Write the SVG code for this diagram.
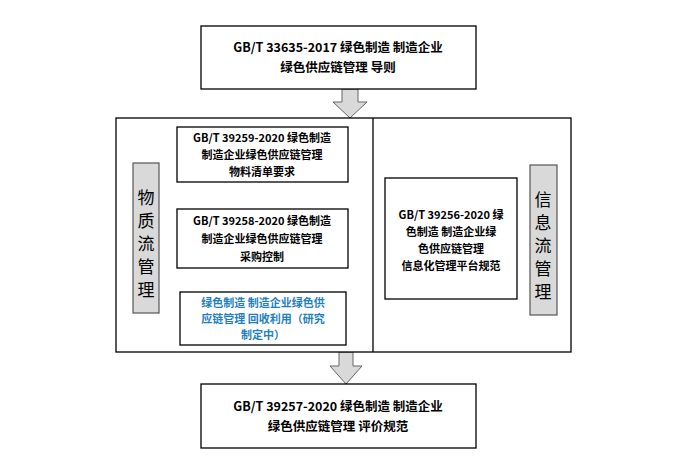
<svg xmlns="http://www.w3.org/2000/svg" width="677" height="464" viewBox="0 0 677 464">
<style>
.b{fill:#fff;stroke:#000;stroke-width:1.3}
.g{fill:#d9d9d9;stroke:#555;stroke-width:1.2}
.a{fill:#d9d9d9;stroke:#666;stroke-width:1}
text{font-family:"Noto Sans CJK SC","Liberation Sans",sans-serif;font-weight:bold;font-size:12.5px;text-anchor:middle;fill:#000}
.s{font-size:11px}
.bl{fill:#1f7fc0}
.v{font-size:17px;font-weight:normal}
</style>
<rect width="677" height="464" fill="#fff"/>
<g id="connectors">
<path class="a" d="M342,89h16v13h9l-17,16l-17,-16h9z"/>
<path class="a" d="M255,182h14v10h10l-17,17l-17,-17h10z"/>
<path class="a" d="M255,268h14v9h10l-16,15l-16,-15h8z"/>
<path class="a" d="M339,352h14v14h9l-16,18l-16,-18h9z"/>
</g>
<g id="outer"><rect class="b" x="116" y="118" width="455" height="234"/><line x1="373" y1="118" x2="373" y2="352" stroke="#000" stroke-width="1.3"/></g>
<g id="top"><rect class="b" x="201" y="26" width="275" height="63"/><text x="338" y="52">GB/T 33635-2017 绿色制造 制造企业</text><text x="338" y="72">绿色供应链管理  导则</text></g>
<g id="n1"><rect class="b" x="177" y="127" width="171" height="55"/><text class="s" x="262" y="142">GB/T 39259-2020 绿色制造</text><text class="s" x="262" y="159">制造企业绿色供应链管理</text><text class="s" x="262" y="176">物料清单要求</text></g>
<g id="n2"><rect class="b" x="177" y="209" width="171" height="59"/><text class="s" x="262" y="225">GB/T 39258-2020 绿色制造</text><text class="s" x="262" y="243">制造企业绿色供应链管理</text><text class="s" x="262" y="261">采购控制</text></g>
<g id="n3"><rect class="b" x="180" y="292" width="166" height="53"/><text class="s bl" x="263" y="307">绿色制造  制造企业绿色供</text><text class="s bl" x="263" y="323">应链管理  回收利用（研究</text><text class="s bl" x="263" y="339">制定中）</text></g>
<g id="left"><rect class="g" x="133" y="163" width="26" height="150"/><text class="v" x="146" y="204">物</text><text class="v" x="146" y="227">质</text><text class="v" x="146" y="250">流</text><text class="v" x="146" y="273">管</text><text class="v" x="146" y="296">理</text></g>
<g id="n4"><rect class="b" x="385" y="178" width="132" height="121"/><text class="s" x="451" y="219">GB/T 39256-2020 绿</text><text class="s" x="451" y="236">色制造  制造企业绿</text><text class="s" x="451" y="253">色供应链管理</text><text class="s" x="451" y="270">信息化管理平台规范</text></g>
<g id="right"><rect class="g" x="530" y="165" width="27" height="150"/><text class="v" x="543" y="206">信</text><text class="v" x="543" y="229">息</text><text class="v" x="543" y="252">流</text><text class="v" x="543" y="275">管</text><text class="v" x="543" y="298">理</text></g>
<g id="bottom"><rect class="b" x="201" y="384" width="275" height="64"/><text x="338" y="411">GB/T 39257-2020 绿色制造 制造企业</text><text x="338" y="431">绿色供应链管理  评价规范</text></g>
</svg>
